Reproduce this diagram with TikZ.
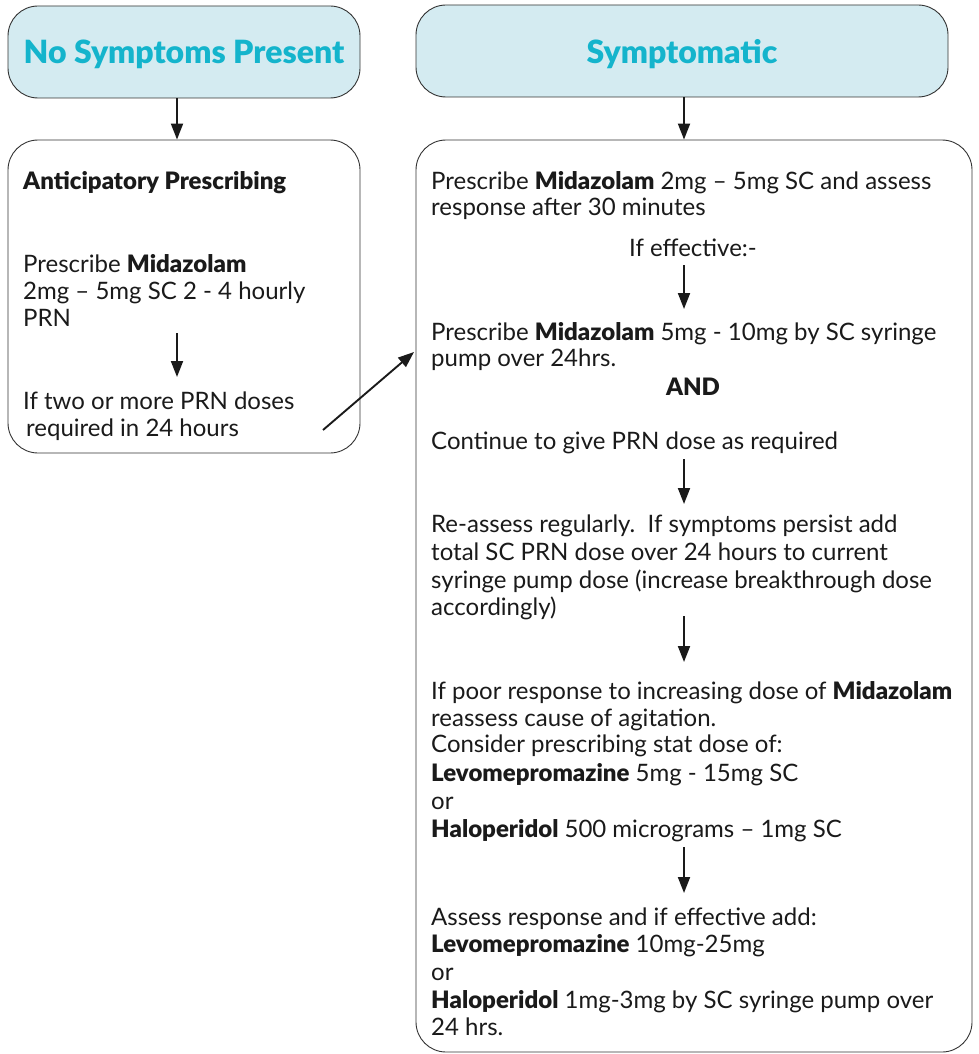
\documentclass[tikz,border=0pt]{standalone}
\usepackage{fontspec}
\setmainfont{Lato}[BoldFont={Lato Black}]
\usetikzlibrary{arrows.meta}
\definecolor{hdrfill}{HTML}{D4EBF1}
\definecolor{hdrtext}{HTML}{14B4CC}
\definecolor{boxline}{HTML}{333333}
\definecolor{txt}{HTML}{1A1A1A}
\tikzset{
  hdr/.style={draw=boxline, line width=0.9pt, fill=hdrfill, rounded corners=30pt, inner sep=0pt},
  panel/.style={draw=boxline, line width=0.9pt, rounded corners=30pt, inner sep=0pt},
  hdrtxt/.style={anchor=base, inner sep=0pt, text=hdrtext, font=\fontsize{32}{38}\selectfont\bfseries},
  ln/.style={anchor=base west, inner sep=0pt, text=txt, font=\fontsize{24}{27}\selectfont},
  lnc/.style={anchor=base, inner sep=0pt, text=txt, font=\fontsize{24}{27}\selectfont},
  arr/.style={draw=txt, line width=1.9pt, -{Triangle[width=12pt,length=16pt]}}
}
\begin{document}
\begin{tikzpicture}[x=1pt,y=-1pt]
\useasboundingbox (0,0) rectangle (979,1054);
% headers
\node[hdr, minimum width=352pt, minimum height=92pt] (h1) at (184,52) {};
\node[hdrtxt] (t1) at (184,64) {No Symptoms Present};
\node[hdr, minimum width=532pt, minimum height=92pt] (h2) at (682,51) {};
\node[hdrtxt] (t2) at (682,64) {Symptomatic};
% panels
\node[panel, minimum width=352pt, minimum height=313pt] (b1) at (184,296.5) {};
\node[panel, minimum width=556pt, minimum height=912pt] (b2) at (694,596) {};
% header arrows
\draw[arr] ([xshift=-7pt]h1.south) -- ([xshift=-7pt]b1.north);
\draw[arr] ([xshift=2pt]h2.south) -- ([xshift=2pt]h2.south |- b2.north);
% left panel text
\node[ln] (p1) at (23,189) {\textbf{Anticipatory Prescribing}};
\node[ln] (p2) at (23,272) {Prescribe \textbf{Midazolam}};
\node[ln] (p3) at (23,299) {2mg – 5mg SC 2 - 4 hourly};
\node[ln] (p4) at (23,326) {PRN};
\node[ln] (p5) at (23,409) {If two or more PRN doses};
\node[ln] (p6) at (26,436) {required in 24 hours};
\coordinate (la1) at (177,333);
\coordinate (la2) at (177,377);
\draw[arr] (la1) -- (la2);
% diagonal arrow
\coordinate (d1) at (323,430);
\coordinate (d2) at (414,352);
\draw[arr] (d1) -- (d2);
% right panel text
\node[ln] (r1) at (431,189) {Prescribe \textbf{Midazolam} 2mg – 5mg SC and assess};
\node[ln] (r2) at (431,215) {response after 30 minutes};
\node[lnc] (r3) at (693,256) {If effective:-};
\node[ln] (r4) at (431,340) {Prescribe \textbf{Midazolam} 5mg - 10mg by SC syringe};
\node[ln] (r5) at (431,366) {pump over 24hrs.};
\node[lnc] (r6) at (693,395) {\textbf{AND}};
\node[ln] (r7) at (431,449) {Continue to give PRN dose as required};
\node[ln] (r8) at (431,532) {Re-assess regularly.\ \ If symptoms persist add};
\node[ln] (r9) at (431,560) {total SC PRN dose over 24 hours to current};
\node[ln] (r10) at (431,588) {syringe pump dose (increase breakthrough dose};
\node[ln] (r11) at (431,615) {accordingly)};
\node[ln] (r12) at (431,699) {If poor response to increasing dose of \textbf{Midazolam}};
\node[ln] (r13) at (431,726) {reassess cause of agitation.};
\node[ln] (r14) at (431,752) {Consider prescribing stat dose of:};
\node[ln] (r15) at (431,781) {\textbf{Levomepromazine} 5mg - 15mg SC};
\node[ln] (r16) at (431,809) {or};
\node[ln] (r17) at (431,837) {\textbf{Haloperidol} 500 micrograms – 1mg SC};
\node[ln] (r18) at (431,925) {Assess response and if effective add:};
\node[ln] (r19) at (431,952) {\textbf{Levomepromazine} 10mg-25mg};
\node[ln] (r20) at (431,980) {or};
\node[ln] (r21) at (431,1008) {\textbf{Haloperidol} 1mg-3mg by SC syringe pump over};
\node[ln] (r22) at (431,1035) {24 hrs.};
% right panel arrows
\coordinate (ra1) at (684,265);
\coordinate (ra2) at (684,309);
\coordinate (ra3) at (684,459);
\coordinate (ra4) at (684,504);
\coordinate (ra5) at (684,616);
\coordinate (ra6) at (684,662);
\coordinate (ra7) at (684,847);
\coordinate (ra8) at (684,893);
\draw[arr] (ra1) -- (ra2);
\draw[arr] (ra3) -- (ra4);
\draw[arr] (ra5) -- (ra6);
\draw[arr] (ra7) -- (ra8);
\end{tikzpicture}
\end{document}
